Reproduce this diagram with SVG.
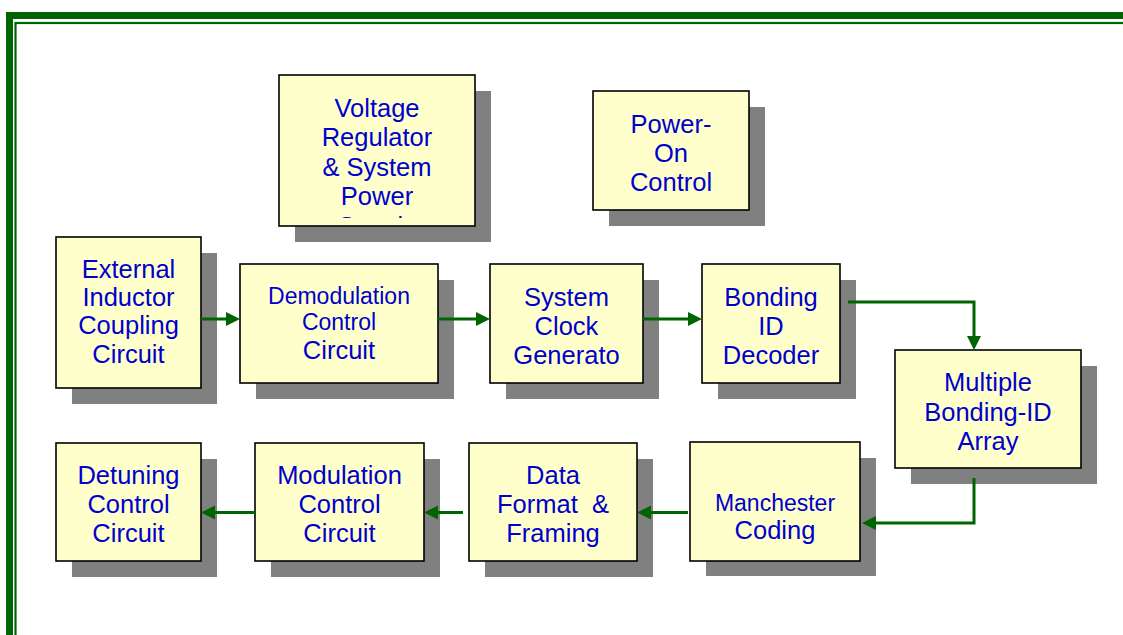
<svg xmlns="http://www.w3.org/2000/svg" width="1123" height="635" viewBox="0 0 1123 635">
<style>
.box{fill:#FFFFCC;stroke:#000;stroke-width:1.6}
.sh{fill:#808080}
.t{font-family:"Liberation Sans",Arial,sans-serif;font-size:25.5px;fill:#0000CC;text-anchor:middle;white-space:pre}
.s{font-size:23px}
.c{fill:none;stroke:#006400;stroke-width:3;stroke-linejoin:miter;marker-end:url(#ah)}
</style>
<defs>
<marker id="ah" markerUnits="userSpaceOnUse" markerWidth="15" markerHeight="15" refX="3" refY="7" orient="auto">
<path d="M0,0 L14,7 L0,14 z" fill="#006400"/>
</marker>
<clipPath id="vclip"><rect x="279" y="75" width="196" height="143"/></clipPath>
</defs>
<rect width="1123" height="635" fill="#fff"/>
<g id="frame" fill="none" stroke="#006400">
<rect x="9.5" y="15.5" width="1130" height="640" stroke-width="7"/>
<rect x="15.5" y="23" width="1120" height="630" stroke-width="2.2"/>
</g>
<g id="voltage">
<rect class="sh" x="295" y="91" width="196" height="151"/>
<rect class="box" x="279" y="75" width="196" height="151"/>
<g clip-path="url(#vclip)">
<text class="t" x="377" y="116.5">Voltage</text>
<text class="t" x="377" y="146.1">Regulator</text>
<text class="t" x="377" y="175.7">&amp; System</text>
<text class="t" x="377" y="205.3">Power</text>
<text class="t" x="377" y="234.9">Supply</text>
</g>
</g>
<g id="poweron">
<rect class="sh" x="609" y="107" width="156" height="119"/>
<rect class="box" x="593" y="91" width="156" height="119"/>
<text class="t" x="671" y="133">Power-</text>
<text class="t" x="671" y="162">On</text>
<text class="t" x="671" y="191">Control</text>
</g>
<g id="external">
<rect class="sh" x="72" y="253" width="145" height="151"/>
<rect class="box" x="56" y="237" width="145" height="151"/>
<text class="t" x="128.5" y="278">External</text>
<text class="t" x="128.5" y="306.2">Inductor</text>
<text class="t" x="128.5" y="334.4">Coupling</text>
<text class="t" x="128.5" y="362.6">Circuit</text>
</g>
<g id="demod">
<rect class="sh" x="256" y="280" width="198" height="119"/>
<rect class="box" x="240" y="264" width="198" height="119"/>
<text class="t s" x="339" y="303.5">Demodulation</text>
<text class="t s" x="339" y="330.2">Control</text>
<text class="t" x="339" y="358.5">Circuit</text>
</g>
<g id="sysclock">
<rect class="sh" x="506" y="280" width="153" height="119"/>
<rect class="box" x="490" y="264" width="153" height="119"/>
<text class="t" x="566.5" y="306">System</text>
<text class="t" x="566.5" y="335">Clock</text>
<text class="t" x="566.5" y="364">Generato</text>
</g>
<g id="bonding">
<rect class="sh" x="718" y="280" width="138" height="119"/>
<rect class="box" x="702" y="264" width="138" height="119"/>
<text class="t" x="771" y="306">Bonding</text>
<text class="t" x="771" y="335">ID</text>
<text class="t" x="771" y="364">Decoder</text>
</g>
<g id="multiple">
<rect class="sh" x="911" y="366" width="186" height="118"/>
<rect class="box" x="895" y="350" width="186" height="118"/>
<text class="t" x="988" y="391">Multiple</text>
<text class="t" x="988" y="420.5">Bonding-ID</text>
<text class="t" x="988" y="450">Array</text>
</g>
<g id="manchester">
<rect class="sh" x="706" y="458" width="170" height="118"/>
<rect class="box" x="690" y="442" width="170" height="119"/>
<text class="t s" x="775" y="510.5">Manchester</text>
<text class="t" x="775" y="538.8">Coding</text>
</g>
<g id="dataformat">
<rect class="sh" x="485" y="459" width="168" height="118"/>
<rect class="box" x="469" y="443" width="168" height="118"/>
<text class="t" x="553" y="484">Data</text>
<text class="t" x="553" y="513">Format  &amp;</text>
<text class="t" x="553" y="542">Framing</text>
</g>
<g id="modulation">
<rect class="sh" x="271" y="459" width="169" height="118"/>
<rect class="box" x="255" y="443" width="169" height="118"/>
<text class="t" x="339.5" y="484">Modulation</text>
<text class="t" x="339.5" y="513">Control</text>
<text class="t" x="339.5" y="542">Circuit</text>
</g>
<g id="detuning">
<rect class="sh" x="72" y="459" width="145" height="118"/>
<rect class="box" x="56" y="443" width="145" height="118"/>
<text class="t" x="128.5" y="484">Detuning</text>
<text class="t" x="128.5" y="513">Control</text>
<text class="t" x="128.5" y="542">Circuit</text>
</g>
<g id="connectors">
<path class="c" d="M201,319 H229"/>
<path class="c" d="M438,319 H479"/>
<path class="c" d="M643,319 H691"/>
<path class="c" d="M848,302 H974 V339"/>
<path class="c" d="M974,478 V523 H873"/>
<path class="c" d="M688,512.5 H648"/>
<path class="c" d="M463,512.5 H435"/>
<path class="c" d="M255,512.5 H212"/>
</g>
</svg>
